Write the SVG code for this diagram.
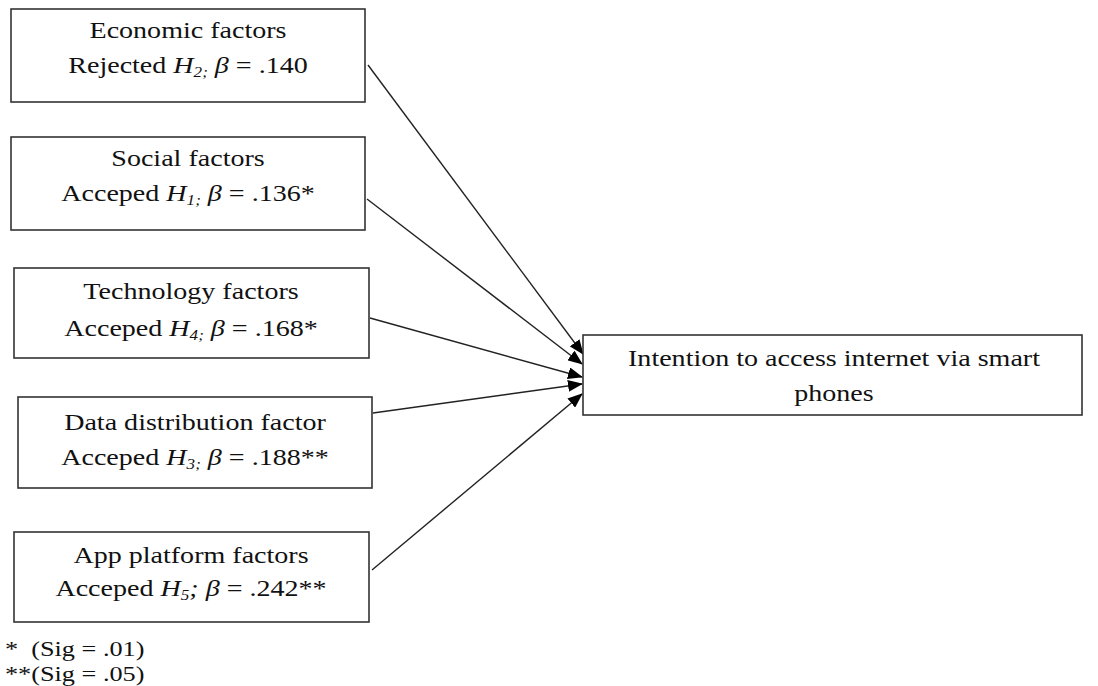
<svg xmlns="http://www.w3.org/2000/svg" width="1098" height="686" viewBox="0 0 1098 686">
<defs>
<style>
.box{fill:#fff;stroke:#333;stroke-width:1.6}
.t{font-family:"Liberation Serif","Times New Roman",serif;font-size:23px;fill:#111;text-anchor:middle}
.lg{font-family:"Liberation Serif","Times New Roman",serif;font-size:21px;fill:#111;white-space:pre}
.i{font-style:italic}
.sub{font-style:italic;font-size:14px}
.c{stroke:#222;stroke-width:1.4;fill:none;marker-end:url(#ah)}
</style>
<marker id="ah" markerUnits="userSpaceOnUse" markerWidth="15" markerHeight="12" refX="14" refY="6" orient="auto">
<path d="M0,0 L15,6 L0,12 Z" fill="#000"/>
</marker>
</defs>
<rect width="1098" height="686" fill="#fff"/>
<g id="connectors">
<line class="c" x1="368" y1="65" x2="583" y2="354"/>
<line class="c" x1="367" y1="199" x2="582" y2="364"/>
<line class="c" x1="370" y1="318" x2="582" y2="377"/>
<line class="c" x1="373" y1="413" x2="582" y2="384"/>
<line class="c" x1="372" y1="570" x2="582" y2="394"/>
</g>
<g id="economic">
<rect class="box" x="11" y="9" width="354" height="93"/>
<g transform="translate(188,0) scale(1.22,1)">
<text class="t" x="0" y="38">Economic factors</text>
<text class="t" x="0" y="73">Rejected <tspan class="i">H</tspan><tspan class="sub" dy="4">2;</tspan><tspan class="i" dy="-4"> β</tspan> = .140</text>
</g>
</g>
<g id="social">
<rect class="box" x="11" y="137" width="354" height="93"/>
<g transform="translate(188,0) scale(1.22,1)">
<text class="t" x="0" y="166">Social factors</text>
<text class="t" x="0" y="201">Acceped <tspan class="i">H</tspan><tspan class="sub" dy="4">1;</tspan><tspan class="i" dy="-4"> β</tspan> = .136*</text>
</g>
</g>
<g id="technology">
<rect class="box" x="14" y="268" width="355" height="90"/>
<g transform="translate(191,0) scale(1.22,1)">
<text class="t" x="0" y="299">Technology factors</text>
<text class="t" x="0" y="336">Acceped <tspan class="i">H</tspan><tspan class="sub" dy="4">4;</tspan><tspan class="i" dy="-4"> β</tspan> = .168*</text>
</g>
</g>
<g id="data">
<rect class="box" x="18" y="397" width="354" height="91"/>
<g transform="translate(195,0) scale(1.22,1)">
<text class="t" x="0" y="430">Data distribution factor</text>
<text class="t" x="0" y="465">Acceped <tspan class="i">H</tspan><tspan class="sub" dy="4">3;</tspan><tspan class="i" dy="-4"> β</tspan> = .188**</text>
</g>
</g>
<g id="app">
<rect class="box" x="14" y="532" width="355" height="90"/>
<g transform="translate(191,0) scale(1.22,1)">
<text class="t" x="0" y="563">App platform factors</text>
<text class="t" x="0" y="596">Acceped <tspan class="i">H</tspan><tspan class="sub" dy="4">5</tspan><tspan class="i" dy="-4">; β</tspan> = .242**</text>
</g>
</g>
<g id="intention">
<rect class="box" x="583" y="335" width="499" height="80"/>
<g transform="translate(834,0) scale(1.22,1)">
<text class="t" x="0" y="366">Intention to access internet via smart</text>
<text class="t" x="0" y="401">phones</text>
</g>
</g>
<g id="legend" transform="translate(5,0) scale(1.25,1)">
<text class="lg" x="0" y="656" xml:space="preserve">*  (Sig = .01)</text>
<text class="lg" x="0" y="681">**(Sig = .05)</text>
</g>
</svg>
